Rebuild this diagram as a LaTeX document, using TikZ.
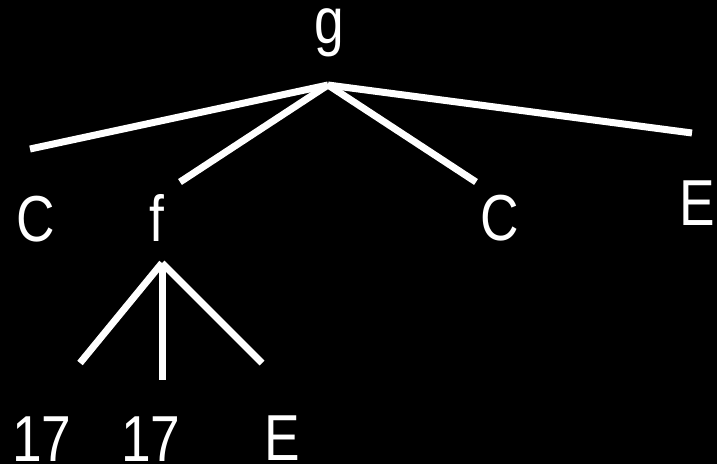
\documentclass[tikz,border=0pt]{standalone}
\usepackage{fontspec}
\setmainfont{Liberation Sans}
\begin{document}
\begin{tikzpicture}[x=1pt,y=-1pt,
  lbl/.style={inner sep=0pt,anchor=base,text=white,font=\fontsize{65}{78}\selectfont},
  edge/.style={draw=white,line width=7pt,line cap=butt}]
\fill[black] (0,0) rectangle (717,464);
\useasboundingbox (0,0) rectangle (717,464);
% labels
\node[lbl] (g) at (329,43) {\scalebox{0.82}[1]{g}};
\node[lbl] (c1) at (36,241) {\scalebox{0.82}[1]{C}};
\node[lbl] (f) at (157,241) {\scalebox{0.82}[1]{f}};
\node[lbl] (c2) at (500,240) {\scalebox{0.82}[1]{C}};
\node[lbl] (e1) at (697,225) {\scalebox{0.82}[1]{E}};
\node[lbl] (n1) at (42,461) {\scalebox{0.82}[1]{17}};
\node[lbl] (n2) at (151,461) {\scalebox{0.82}[1]{17}};
\node[lbl] (e2) at (282,460) {\scalebox{0.82}[1]{E}};
% connector end points
\coordinate (gp) at (328,85);
\coordinate (c1p) at (30,149);
\coordinate (fp) at (180,182);
\coordinate (c2p) at (476,182);
\coordinate (e1p) at (692,133);
\coordinate (fb) at (162,263);
\coordinate (n1p) at (80,363);
\coordinate (n2p) at (162,380);
\coordinate (e2p) at (262,363);
% connectors
\draw[edge] (gp) -- (c1p);
\draw[edge] (gp) -- (fp);
\draw[edge] (gp) -- (c2p);
\draw[edge] (gp) -- (e1p);
\draw[edge] (fb) -- (n1p);
\draw[edge] (fb) -- (n2p);
\draw[edge] (fb) -- (e2p);
\end{tikzpicture}
\end{document}
